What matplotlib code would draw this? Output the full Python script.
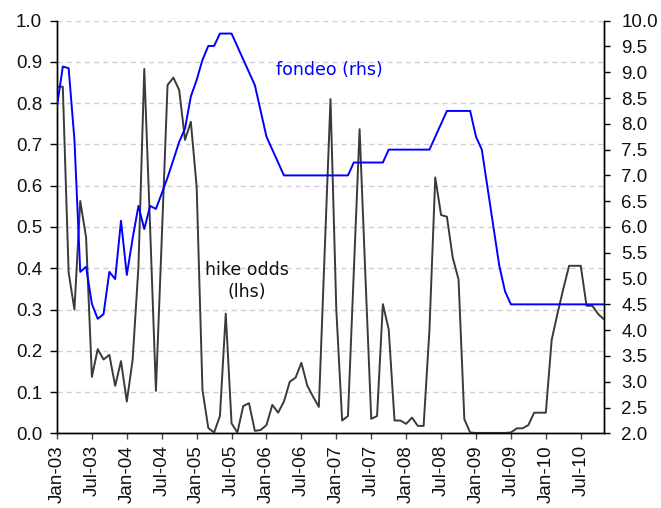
import numpy as np
import matplotlib
matplotlib.use("Agg")
import matplotlib.pyplot as plt

# ---- data ----
tick_labels = ["Jan-03", "Jul-03", "Jan-04", "Jul-04", "Jan-05", "Jul-05",
               "Jan-06", "Jul-06", "Jan-07", "Jul-07", "Jan-08", "Jul-08",
               "Jan-09", "Jul-09", "Jan-10", "Jul-10"]

hike_odds = [0.84, 0.84, 0.39, 0.30, 0.563, 0.475, 0.137, 0.204, 0.179, 0.19,
             0.115, 0.175, 0.077, 0.178, 0.404, 0.883, 0.50, 0.103, 0.47, 0.844,
             0.862, 0.832, 0.711, 0.755, 0.598, 0.105, 0.013, 0.002, 0.042, 0.29,
             0.024, 0.002, 0.066, 0.073, 0.006, 0.008, 0.02, 0.069, 0.05, 0.077,
             0.125, 0.135, 0.171, 0.116, 0.089, 0.064, 0.44, 0.81, 0.299, 0.031,
             0.042, 0.39, 0.737, 0.38, 0.035, 0.042, 0.313, 0.252, 0.031, 0.031,
             0.023, 0.038, 0.018, 0.018, 0.25, 0.62, 0.529, 0.525, 0.426, 0.373,
             0.034, 0.002, 0.001, 0.001, 0.001, 0.001, 0.001, 0.001, 0.002, 0.012,
             0.012, 0.02, 0.05, 0.05, 0.05, 0.226, 0.29, 0.35, 0.406, 0.406,
             0.406, 0.309, 0.309, 0.289, 0.276]

fondeo = [8.33, 9.11, 9.08, 7.69, 5.13, 5.23, 4.51, 4.22, 4.31, 5.13,
          4.99, 6.12, 5.07, 5.78, 6.41, 5.96, 6.41, 6.35, 6.65, 6.96,
          7.30, 7.65, 7.91, 8.53, 8.85, 9.24, 9.51, 9.51, 9.75, 9.75,
          9.75, 9.50, 9.25, 9.00, 8.75, 8.25, 7.75, 7.50, 7.25, 7.00,
          7.00, 7.00, 7.00, 7.00, 7.00, 7.00, 7.00, 7.00, 7.00, 7.00,
          7.00, 7.25, 7.25, 7.25, 7.25, 7.25, 7.25, 7.50, 7.50, 7.50,
          7.50, 7.50, 7.50, 7.50, 7.50, 7.75, 8.00, 8.25, 8.25, 8.25,
          8.25, 8.25, 7.75, 7.50, 6.75, 6.00, 5.25, 4.75, 4.50, 4.50,
          4.50, 4.50, 4.50, 4.50, 4.50, 4.50, 4.50, 4.50, 4.50, 4.50,
          4.50, 4.50, 4.50, 4.50, 4.50]

months = np.arange(len(hike_odds))

# ---- figure ----
fig = plt.figure(figsize=(6.61, 5.08), dpi=100)
ax = fig.add_axes([0.0862, 0.147, 0.8276, 0.8123])
ax2 = ax.twinx()

ax.plot(months, hike_odds, color="#3a3a3a", lw=1.4, zorder=3)
ax2.plot(months, fondeo, color="#0000ff", lw=1.4, zorder=3)

ax.set_xlim(0, len(months) - 1)
ax.set_ylim(0, 1.0)
ax2.set_ylim(2.0, 10.0)

ax.set_yticks(np.arange(0, 1.01, 0.1))
ax.set_yticklabels([f"{v:.1f}" for v in np.arange(0, 1.01, 0.1)])
ax2.set_yticks(np.arange(2.0, 10.01, 0.5))
ax2.set_yticklabels([f"{v:.1f}" for v in np.arange(2.0, 10.01, 0.5)])
ax.set_xticks(np.arange(0, 6 * len(tick_labels), 6))
ax.set_xticklabels(tick_labels, rotation=90)

ax.yaxis.grid(True, color="#cfcfcf", linestyle=(0, (3.6, 3.0)), lw=1.0)
ax.set_axisbelow(True)

for lab in ax.get_xticklabels() + ax.get_yticklabels() + ax2.get_yticklabels():
    lab.set_fontfamily("Liberation Sans")
    lab.set_fontsize(13.5)
    lab.set_color("#111111")

ax.tick_params(axis="y", direction="out", length=4.7, width=1.0, pad=6)
ax.tick_params(axis="x", direction="out", length=4.5, width=1.0, pad=4, color="#444444")
ax2.tick_params(axis="y", direction="out", length=4.5, width=1.0, pad=8)

for a in (ax, ax2):
    a.spines["top"].set_visible(False)
    for s in ("left", "right", "bottom"):
        a.spines[s].set_linewidth(1.0)
        a.spines[s].set_color("black")

ax.text(46.8, 0.88, "fondeo (rhs)", color="#0000ff", fontsize=12.5,
        family="DejaVu Sans", ha="center", va="center")
ax.text(32.6, 0.369, "hike odds\n(lhs)", color="#111111", fontsize=12.5,
        family="DejaVu Sans", ha="center", va="center", linespacing=1.3)

fig.savefig("out.png", dpi=100)
